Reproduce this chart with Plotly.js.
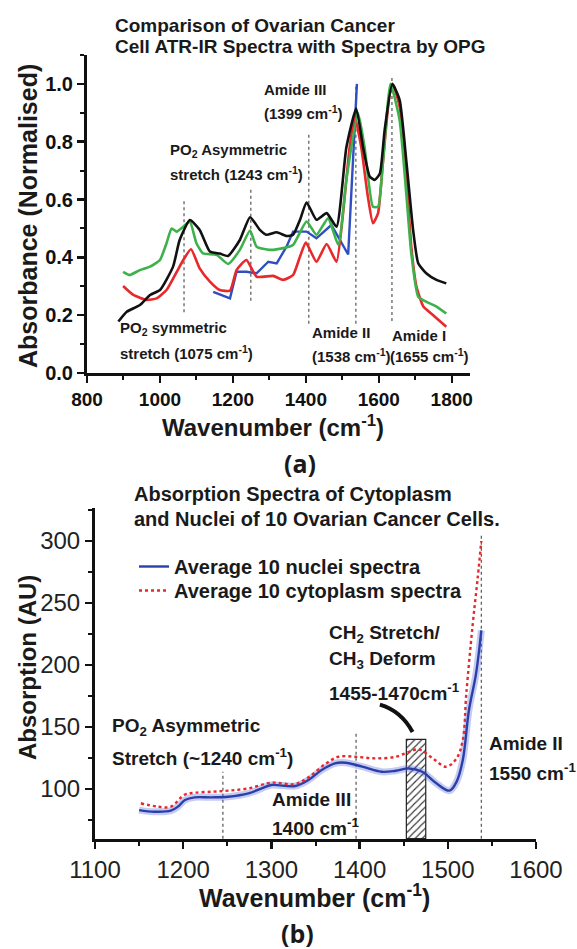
<!DOCTYPE html>
<html><head><meta charset="utf-8">
<script src="https://cdn.plot.ly/plotly-3.0.1.min.js"></script>
<style>html,body{margin:0;padding:0;background:#fff}#chart{width:577px;height:949px}</style>
</head><body><div id="chart"></div>
<script>
// ---------- Panel (a): normalised ATR-IR spectra ----------
const blackX = [886, 909, 945, 973, 1000, 1036, 1054, 1082, 1109, 1137, 1164, 1187, 1219, 1247, 1274, 1292, 1320, 1347, 1365, 1384, 1402, 1429, 1457, 1484, 1511, 1538, 1557, 1575, 1589, 1603, 1616, 1637, 1657, 1676, 1694, 1708, 1730, 1758, 1785];
const blackY = [0.178, 0.212, 0.235, 0.27, 0.287, 0.368, 0.46, 0.529, 0.495, 0.42, 0.413, 0.405, 0.46, 0.539, 0.495, 0.478, 0.487, 0.474, 0.478, 0.53, 0.59, 0.53, 0.553, 0.506, 0.78, 0.915, 0.78, 0.68, 0.668, 0.69, 0.84, 1.0, 0.945, 0.726, 0.495, 0.38, 0.345, 0.322, 0.31];
const greenX = [899, 917, 945, 973, 1000, 1018, 1032, 1046, 1064, 1082, 1100, 1118, 1155, 1187, 1219, 1247, 1265, 1301, 1338, 1365, 1402, 1429, 1461, 1489, 1511, 1543, 1561, 1584, 1598, 1611, 1632, 1657, 1676, 1689, 1708, 1731, 1758, 1785];
const greenY = [0.35, 0.339, 0.356, 0.368, 0.391, 0.449, 0.5, 0.489, 0.506, 0.524, 0.449, 0.414, 0.409, 0.377, 0.426, 0.493, 0.437, 0.426, 0.432, 0.443, 0.524, 0.478, 0.535, 0.443, 0.668, 0.899, 0.78, 0.575, 0.575, 0.725, 1.0, 0.875, 0.61, 0.415, 0.264, 0.246, 0.23, 0.206];
const redX = [899, 927, 963, 991, 1018, 1046, 1064, 1085, 1109, 1137, 1164, 1192, 1210, 1237, 1265, 1310, 1338, 1365, 1384, 1400, 1429, 1457, 1484, 1502, 1520, 1534, 1552, 1570, 1584, 1598, 1611, 1630, 1639, 1657, 1676, 1689, 1703, 1722, 1749, 1785];
const redY = [0.301, 0.27, 0.253, 0.258, 0.287, 0.35, 0.391, 0.428, 0.362, 0.316, 0.287, 0.285, 0.356, 0.391, 0.333, 0.336, 0.322, 0.339, 0.403, 0.451, 0.385, 0.446, 0.385, 0.553, 0.78, 0.887, 0.78, 0.61, 0.518, 0.553, 0.725, 0.967, 0.996, 0.922, 0.668, 0.438, 0.3, 0.23, 0.2, 0.16];
const blueX = [1146, 1192, 1210, 1237, 1265, 1297, 1320, 1347, 1365, 1402, 1429, 1470, 1516, 1540];
const blueY = [0.281, 0.258, 0.35, 0.35, 0.345, 0.385, 0.379, 0.437, 0.489, 0.489, 0.466, 0.512, 0.41, 1.0];
// peak marker lines (wavenumber, low, high)
const markA_X  = [1066, 1249, 1408, 1537, 1636];
const markA_Y0 = [0.21, 0.25, 0.17, 0.17, 0.18];
const markA_Y1 = [0.60, 0.64, 0.83, 1.00, 1.03];
const tickA_X = [800, 1000, 1200, 1400, 1600, 1800];
const tickA_Y = [0.0, 0.2, 0.4, 0.6, 0.8, 1.0];

// ---------- Panel (b): cytoplasm vs nuclei ----------
const nucX = [1150, 1167, 1186, 1194, 1202, 1213, 1232, 1251, 1274, 1289, 1300, 1327, 1342, 1357, 1372, 1384, 1403, 1425, 1441, 1456, 1471, 1487, 1502, 1510, 1517, 1524, 1532, 1538];
const nucY = [83, 81.7, 82.5, 85.8, 91.1, 93.3, 93.3, 93.8, 96.5, 100.5, 103.2, 102.4, 107.3, 115.3, 120.7, 121.2, 118, 113.9, 114.7, 116.6, 113.9, 104.6, 98.7, 106, 123.4, 163.7, 193, 228];
const cytX = [1152, 1171, 1186, 1201, 1213, 1232, 1251, 1274, 1300, 1327, 1342, 1361, 1376, 1395, 1418, 1441, 1456, 1467, 1483, 1498, 1510, 1517, 1521, 1528, 1534, 1538];
const cytY = [88.5, 85.8, 85.8, 95.2, 97, 97.8, 98.7, 100.5, 105.1, 104, 109.4, 120.1, 126, 126, 124.7, 126, 130, 131.9, 124.7, 118, 124.7, 139.5, 177, 231, 271, 300];
const markB_X  = [1245, 1396, 1538];
const markB_Y1 = [114, 146, 306];
const hatchRange = [1453, 1475];
const hatchTop = 140;
const tickB_X = [1100, 1200, 1300, 1400, 1500, 1600];
const tickB_Y = [100, 150, 200, 250, 300];

const W = 577, H = 949;
const fx = p => p / W, fy = p => 1 - p / H;
const FONT = 'Liberation Sans, Arial, sans-serif';

const traces = [
  {x: blueX, y: blueY, xaxis: 'x', yaxis: 'y', mode: 'lines', line: {color: '#2f4fc0', width: 2.4}, showlegend: false},
  {x: redX, y: redY, xaxis: 'x', yaxis: 'y', mode: 'lines', line: {color: '#e8282a', width: 2.6, shape: 'spline', smoothing: 0.5}, showlegend: false},
  {x: greenX, y: greenY, xaxis: 'x', yaxis: 'y', mode: 'lines', line: {color: '#3db24b', width: 2.6, shape: 'spline', smoothing: 0.5}, showlegend: false},
  {x: blackX, y: blackY, xaxis: 'x', yaxis: 'y', mode: 'lines', line: {color: '#111', width: 2.6, shape: 'spline', smoothing: 0.5}, showlegend: false},
  // panel b
  {x: [(hatchRange[0] + hatchRange[1]) / 2], y: [hatchTop - 60], base: [60], width: [hatchRange[1] - hatchRange[0]],
   type: 'bar', xaxis: 'x2', yaxis: 'y2', showlegend: false,
   marker: {color: 'white', line: {color: '#222', width: 1.2}, pattern: {shape: '/', fgcolor: '#333', bgcolor: 'white', size: 5, solidity: 0.22}}},
  {x: nucX, y: nucY, xaxis: 'x2', yaxis: 'y2', mode: 'lines', line: {color: 'rgba(90,110,220,0.35)', width: 7, shape: 'spline'}, showlegend: false, hoverinfo: 'skip'},
  {x: nucX, y: nucY, xaxis: 'x2', yaxis: 'y2', mode: 'lines', name: 'Average 10 nuclei spectra', legend: 'legend', line: {color: '#2c3fa8', width: 2.4, shape: 'spline'}},
  {x: cytX, y: cytY, xaxis: 'x2', yaxis: 'y2', mode: 'lines', name: 'Average 10 cytoplasm spectra', legend: 'legend2', line: {color: '#e8282a', width: 2.4, dash: 'dot', shape: 'spline'}}
];

const shapes = [];
markA_X.forEach((v, i) => shapes.push({type: 'line', xref: 'x', yref: 'y', x0: v, x1: v, y0: markA_Y0[i], y1: markA_Y1[i], line: {color: '#777', width: 1.5, dash: 'dot'}, layer: 'below'}));
markB_X.forEach((v, i) => shapes.push({type: 'line', xref: 'x2', yref: 'y2', x0: v, x1: v, y0: 60, y1: markB_Y1[i], line: {color: '#555', width: 1.2, dash: 'dot'}, layer: 'below'}));
shapes.push({type: 'path', xref: 'x2', yref: 'y2', path: 'M1423,168 Q1447,163 1460,146', line: {color: '#111', width: 4}});

function ann(text, x, y, size, opts) {
  opts = opts || {};
  return Object.assign({text: text, x: fx(x), y: fy(y), xref: 'paper', yref: 'paper', showarrow: false,
    xanchor: opts.anchor || 'left', yanchor: 'middle',
    font: {family: opts.family || FONT, size: size, color: '#1a1a1a', weight: opts.weight || 'bold'}}, opts.extra || {});
}
const annotations = [
  ann('Comparison of Ovarian Cancer', 113, 25, 19),
  ann('Cell ATR-IR Spectra with Spectra by OPG', 113, 47, 19),
  ann('Amide III', 262, 90, 15),
  ann('(1399 cm<sup>-1</sup>)', 262, 113, 15),
  ann('PO<sub>2</sub> Asymmetric', 168, 150, 15),
  ann('stretch (1243 cm<sup>-1</sup>)', 168, 173, 15),
  ann('PO<sub>2</sub> symmetric', 118, 328, 15),
  ann('stretch (1075 cm<sup>-1</sup>)', 118, 352, 15),
  ann('Amide II', 310, 333, 15),
  ann('(1538 cm<sup>-1</sup>)', 310, 355, 15),
  ann('Amide I', 390, 335, 15),
  ann('(1655 cm<sup>-1</sup>)', 388, 355, 15),
  ann('Absorbance (Normalised)', 28, 216, 25, {anchor: 'center', extra: {textangle: -90}}),
  ann('Wavenumber (cm<sup>-1</sup>)', 273, 426, 24, {anchor: 'center'}),
  ann('(a)', 300, 463, 25, {anchor: 'center', family: 'Open Sans, sans-serif', weight: 700}),
  // panel b
  ann('Absorption Spectra of Cytoplasm', 132, 494, 20),
  ann('and Nuclei of 10 Ovarian Cancer Cells.', 132, 519, 20),
  ann('CH<sub>2</sub> Stretch/', 327, 634, 19),
  ann('CH<sub>3</sub> Deform', 327, 660, 19),
  ann('1455-1470cm<sup>-1</sup>', 327, 692, 19),
  ann('PO<sub>2</sub> Asymmetric', 110, 727, 19),
  ann('Stretch (~1240 cm<sup>-1</sup>)', 110, 757, 19),
  ann('Amide III', 270, 799, 19),
  ann('1400 cm<sup>-1</sup>', 270, 827, 19),
  ann('Amide II', 487, 743, 19),
  ann('1550 cm<sup>-1</sup>', 487, 772, 19),
  ann('Absorption (AU)', 27, 668, 24, {anchor: 'center', extra: {textangle: -90}}),
  ann('Wavenumber (cm<sup>-1</sup>)', 315, 896, 25, {anchor: 'center'}),
  ann('(b)', 297, 933, 25, {anchor: 'center', family: 'Open Sans, sans-serif', weight: 700})
];

const axA = {showgrid: false, zeroline: false, showline: true, linecolor: '#111', linewidth: 3, ticks: 'outside', ticklen: 7, tickwidth: 2.5, tickcolor: '#111', automargin: false, fixedrange: true};
const legFont = {family: FONT, size: 20, weight: 'bold', color: '#1a1a1a'};
const layout = {
  width: W, height: H, margin: {l: 0, r: 0, t: 0, b: 0}, paper_bgcolor: '#fff', plot_bgcolor: 'rgba(0,0,0,0)',
  font: {family: FONT, color: '#111'},
  xaxis: Object.assign({}, axA, {domain: [fx(87), fx(470)], range: [800, 1850], anchor: 'y', tickvals: tickA_X,
    tickfont: {family: FONT, size: 19, weight: 'bold', color: '#111'}, minor: {dtick: 100, tick0: 800, ticklen: 4, tickwidth: 2, tickcolor: '#111', ticks: 'outside'}}),
  yaxis: Object.assign({}, axA, {domain: [fy(373), fy(55)], range: [0, 1.1], anchor: 'x', tickvals: tickA_Y, tickformat: '.1f',
    tickfont: {family: FONT, size: 20, weight: 'bold', color: '#111'}, minor: {dtick: 0.1, tick0: 0, ticklen: 4, tickwidth: 2, tickcolor: '#111', ticks: 'outside'}}),
  xaxis2: Object.assign({}, axA, {domain: [fx(95), fx(536)], range: [1100, 1600], anchor: 'y2', tickvals: tickB_X,
    tickfont: {family: FONT, size: 24, color: '#222'}, minor: {dtick: 50, tick0: 1100, ticklen: 4, tickwidth: 2, tickcolor: '#111', ticks: 'outside'}}),
  yaxis2: Object.assign({}, axA, {domain: [fy(839), fy(508)], range: [59.7, 326.6], anchor: 'x2', tickvals: tickB_Y,
    tickfont: {family: FONT, size: 24, color: '#222'}, minor: {dtick: 25, tick0: 0, ticklen: 4, tickwidth: 2, tickcolor: '#111', ticks: 'outside'}}),
  showlegend: true,
  legend: {x: fx(134), y: fy(547), xanchor: 'left', yanchor: 'top', bgcolor: 'rgba(0,0,0,0)', borderwidth: 0, font: legFont},
  legend2: {x: fx(134), y: fy(571), xanchor: 'left', yanchor: 'top', bgcolor: 'rgba(0,0,0,0)', borderwidth: 0, font: legFont},
  shapes: shapes,
  annotations: annotations
};
Plotly.newPlot('chart', traces, layout, {staticPlot: true, displayModeBar: false});
</script>
</body></html>
